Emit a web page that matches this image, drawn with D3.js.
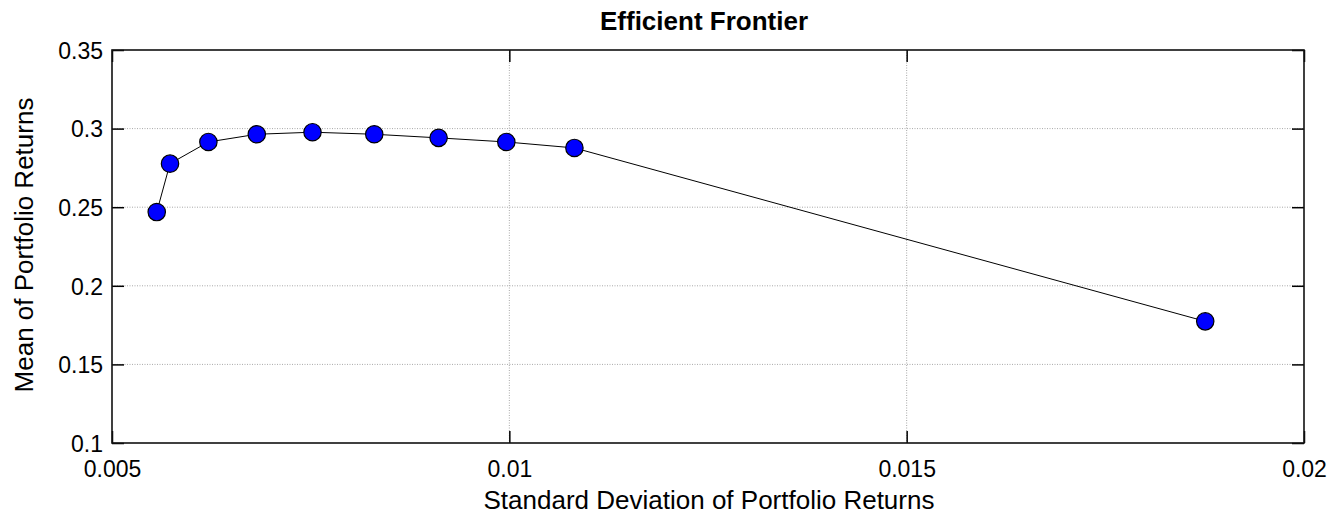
<!DOCTYPE html>
<html><head><meta charset="utf-8">
<script src="https://cdn.jsdelivr.net/npm/d3@7"></script>
<style>body{margin:0;background:#fff}svg{display:block}text{font-family:"Liberation Sans",Arial,sans-serif}</style>
</head><body><svg id="c" width="1336" height="516"></svg>
<script>
const risk = [0.005563, 0.00573, 0.006213, 0.006822, 0.007523, 0.0083, 0.00911, 0.009962, 0.010819, 0.018757];
const ret  = [0.2469, 0.2777, 0.2915, 0.2964, 0.2977, 0.2964, 0.2941, 0.2915, 0.2877, 0.1774];
const xTicks = [0.005, 0.01, 0.015, 0.02];
const xTickLabels = ["0.005", "0.01", "0.015", "0.02"];
const yTicks = [0.1, 0.15, 0.2, 0.25, 0.3, 0.35];
const yTickLabels = ["0.1", "0.15", "0.2", "0.25", "0.3", "0.35"];

const svg = d3.select("#c");
const L = 112, R = 1304, T = 50, B = 443;
const x = d3.scaleLinear().domain([0.005, 0.02]).range([L, R]);
const y = d3.scaleLinear().domain([0.1, 0.35]).range([B, T]);
const tl = 12;

// grid
svg.append("g").selectAll("line").data(xTicks.slice(1, -1)).join("line")
  .attr("x1", d => x(d)).attr("x2", d => x(d)).attr("y1", T).attr("y2", B)
  .attr("stroke", "#a8a8a8").attr("stroke-width", 1).attr("stroke-dasharray", "1,1.5");
svg.append("g").selectAll("line").data(yTicks.slice(1, -1)).join("line")
  .attr("y1", d => y(d)).attr("y2", d => y(d)).attr("x1", L).attr("x2", R)
  .attr("stroke", "#a8a8a8").attr("stroke-width", 1).attr("stroke-dasharray", "1,1.5");

// axes with inward ticks
const fmtX = (d, i) => xTickLabels[i], fmtY = (d, i) => yTickLabels[i];
const gx = svg.append("g").attr("transform", `translate(0,${B})`)
  .call(d3.axisBottom(x).tickValues(xTicks).tickFormat(fmtX).tickSizeInner(-tl).tickSizeOuter(0).tickPadding(17.5));
const gy = svg.append("g").attr("transform", `translate(${L},0)`)
  .call(d3.axisLeft(y).tickValues(yTicks).tickFormat(fmtY).tickSizeInner(-tl).tickSizeOuter(0).tickPadding(9));
svg.append("g").attr("transform", `translate(0,${T})`)
  .call(d3.axisTop(x).tickValues(xTicks).tickFormat("").tickSizeInner(-tl).tickSizeOuter(0));
svg.append("g").attr("transform", `translate(${R},0)`)
  .call(d3.axisRight(y).tickValues(yTicks).tickFormat("").tickSizeInner(-tl).tickSizeOuter(0));
svg.selectAll(".domain").remove();
svg.selectAll(".tick line").attr("stroke", "#000").attr("stroke-width", 1.5);
svg.selectAll(".tick text").attr("font-size", 23).attr("fill", "#000").attr("font-family", "Liberation Sans, Arial, sans-serif");
gy.selectAll(".tick text").attr("dy", "0.36em");

svg.append("rect").attr("x", L).attr("y", T).attr("width", R - L).attr("height", B - T)
  .attr("fill", "none").attr("stroke", "#111").attr("stroke-width", 1.6);

// line
const pts = risk.map((r, i) => [r, ret[i]]);
svg.append("path").datum(pts)
  .attr("d", d3.line().x(d => x(d[0])).y(d => y(d[1])))
  .attr("fill", "none").attr("stroke", "#000").attr("stroke-width", 1);
svg.append("g").selectAll("circle").data(pts).join("circle")
  .attr("cx", d => x(d[0])).attr("cy", d => y(d[1])).attr("r", 8.7)
  .attr("fill", "#0000ff").attr("stroke", "#000").attr("stroke-width", 1.2);

// titles
svg.append("text").attr("x", 704).attr("y", 30).attr("text-anchor", "middle")
  .attr("font-size", 26).attr("font-weight", "bold").text("Efficient Frontier");
svg.append("text").attr("x", 709).attr("y", 509).attr("text-anchor", "middle")
  .attr("font-size", 26).text("Standard Deviation of Portfolio Returns");
svg.append("text").attr("transform", "translate(33,245) rotate(-90)").attr("text-anchor", "middle")
  .attr("font-size", 26).text("Mean of Portfolio Returns");
</script></body></html>
